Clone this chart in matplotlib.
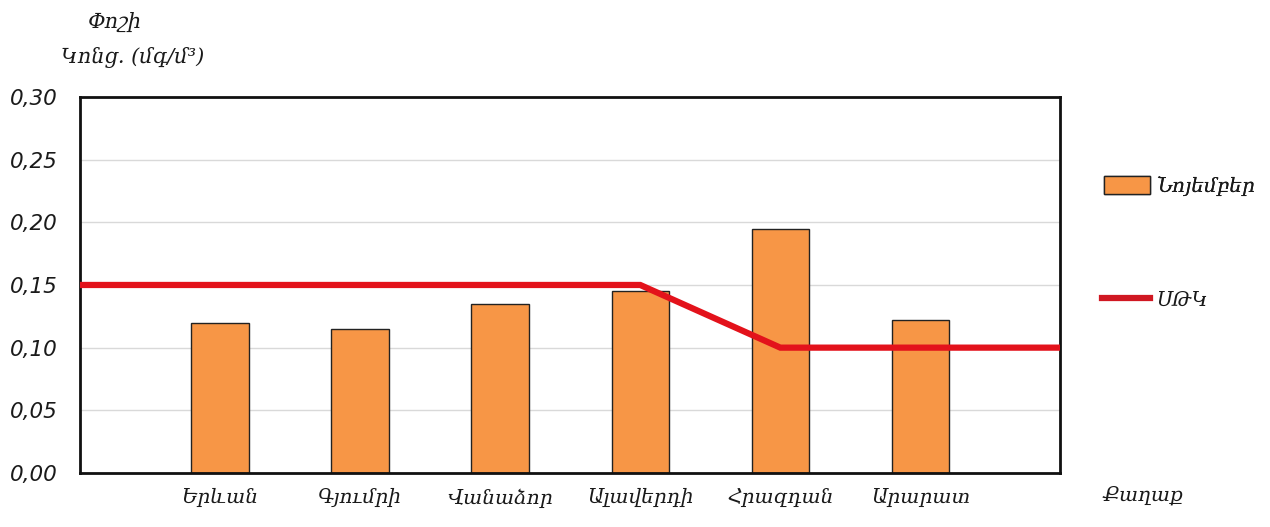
import matplotlib
matplotlib.use("Agg")
import matplotlib.pyplot as plt
from matplotlib.patches import Patch
from matplotlib.lines import Line2D

cities = ["Երևան", "Գյումրի", "Վանաձոր", "Ալավերդի", "Հրազդան", "Արարատ"]
november = [0.120, 0.115, 0.135, 0.145, 0.195, 0.122]
# MPC (ՍԹԿ) line, from the left edge of the plot to the right edge
mpc_x = [-1, 0, 1, 2, 3, 4, 5, 6]
mpc_vals = [0.15, 0.15, 0.15, 0.15, 0.15, 0.10, 0.10, 0.10]
yticks = [0.00, 0.05, 0.10, 0.15, 0.20, 0.25, 0.30]
ytick_labels = ["0,00", "0,05", "0,10", "0,15", "0,20", "0,25", "0,30"]

arm_font = ["DejaVu Serif", "DejaVu Sans"]
txt_color = "#1a1a1a"

fig = plt.figure(figsize=(12.7, 5.27), dpi=100)
ax = fig.add_axes([0.063, 0.1025, 0.772, 0.7135])

x = list(range(len(cities)))
ax.bar(x, november, width=0.41, color="#F79646", edgecolor="#222222", linewidth=1.0, zorder=2)
ax.plot(mpc_x, mpc_vals, color="#E3121B", linewidth=4.5, zorder=3, solid_joinstyle="miter")

ax.set_xlim(-1, 6)
ax.set_ylim(0, 0.30)
ax.set_yticks(yticks)
ax.set_yticklabels(ytick_labels, fontsize=15.5, style="italic", family="DejaVu Sans", color=txt_color)
ax.set_xticks(x)
ax.set_xticklabels(cities, fontsize=14.5, style="italic", family=arm_font, color=txt_color)
ax.tick_params(axis="both", length=0)
ax.tick_params(axis="y", pad=16)
ax.tick_params(axis="x", pad=11)
ax.grid(axis="y", color="#D9D9D9", linewidth=1.0, zorder=0)
ax.set_axisbelow(True)
for s in ax.spines.values():
    s.set_linewidth(2.0)
    s.set_color("#111111")

fig.text(115 / 1270, 1 - 22 / 527, "Փոշի", ha="center", va="center",
         fontsize=15, style="italic", family=arm_font, color=txt_color)
fig.text(133 / 1270, 1 - 57 / 527, "Կոնց. (մգ/մ³)", ha="center", va="center",
         fontsize=15, style="italic", family=arm_font, color=txt_color)
fig.text(1143 / 1270, 1 - 495 / 527, "Քաղաք", ha="center", va="center",
         fontsize=14.5, style="italic", family=arm_font, color=txt_color)

handles = [Patch(facecolor="#F79646", edgecolor="#222222", linewidth=1.0),
           Line2D([0], [0], color="#D01822", linewidth=4.5)]
leg1 = fig.legend([handles[0]], ["Նոյեմբեր"], loc="center left",
                  bbox_to_anchor=(1094 / 1270, 1 - 186 / 527), frameon=False,
                  prop={"family": arm_font, "style": "italic", "size": 14.5},
                  handlelength=2.3, handleheight=1.0, handletextpad=0.3, borderpad=0,
                  labelcolor=txt_color)
leg2 = fig.legend([handles[1]], ["ՍԹԿ"], loc="center left",
                  bbox_to_anchor=(1092 / 1270, 1 - 300 / 527), frameon=False,
                  prop={"family": arm_font, "style": "italic", "size": 14.5},
                  handlelength=2.4, handletextpad=0.3, borderpad=0,
                  labelcolor=txt_color)
fig.add_artist(leg1)

fig.savefig("out.png", dpi=100, facecolor="white")
